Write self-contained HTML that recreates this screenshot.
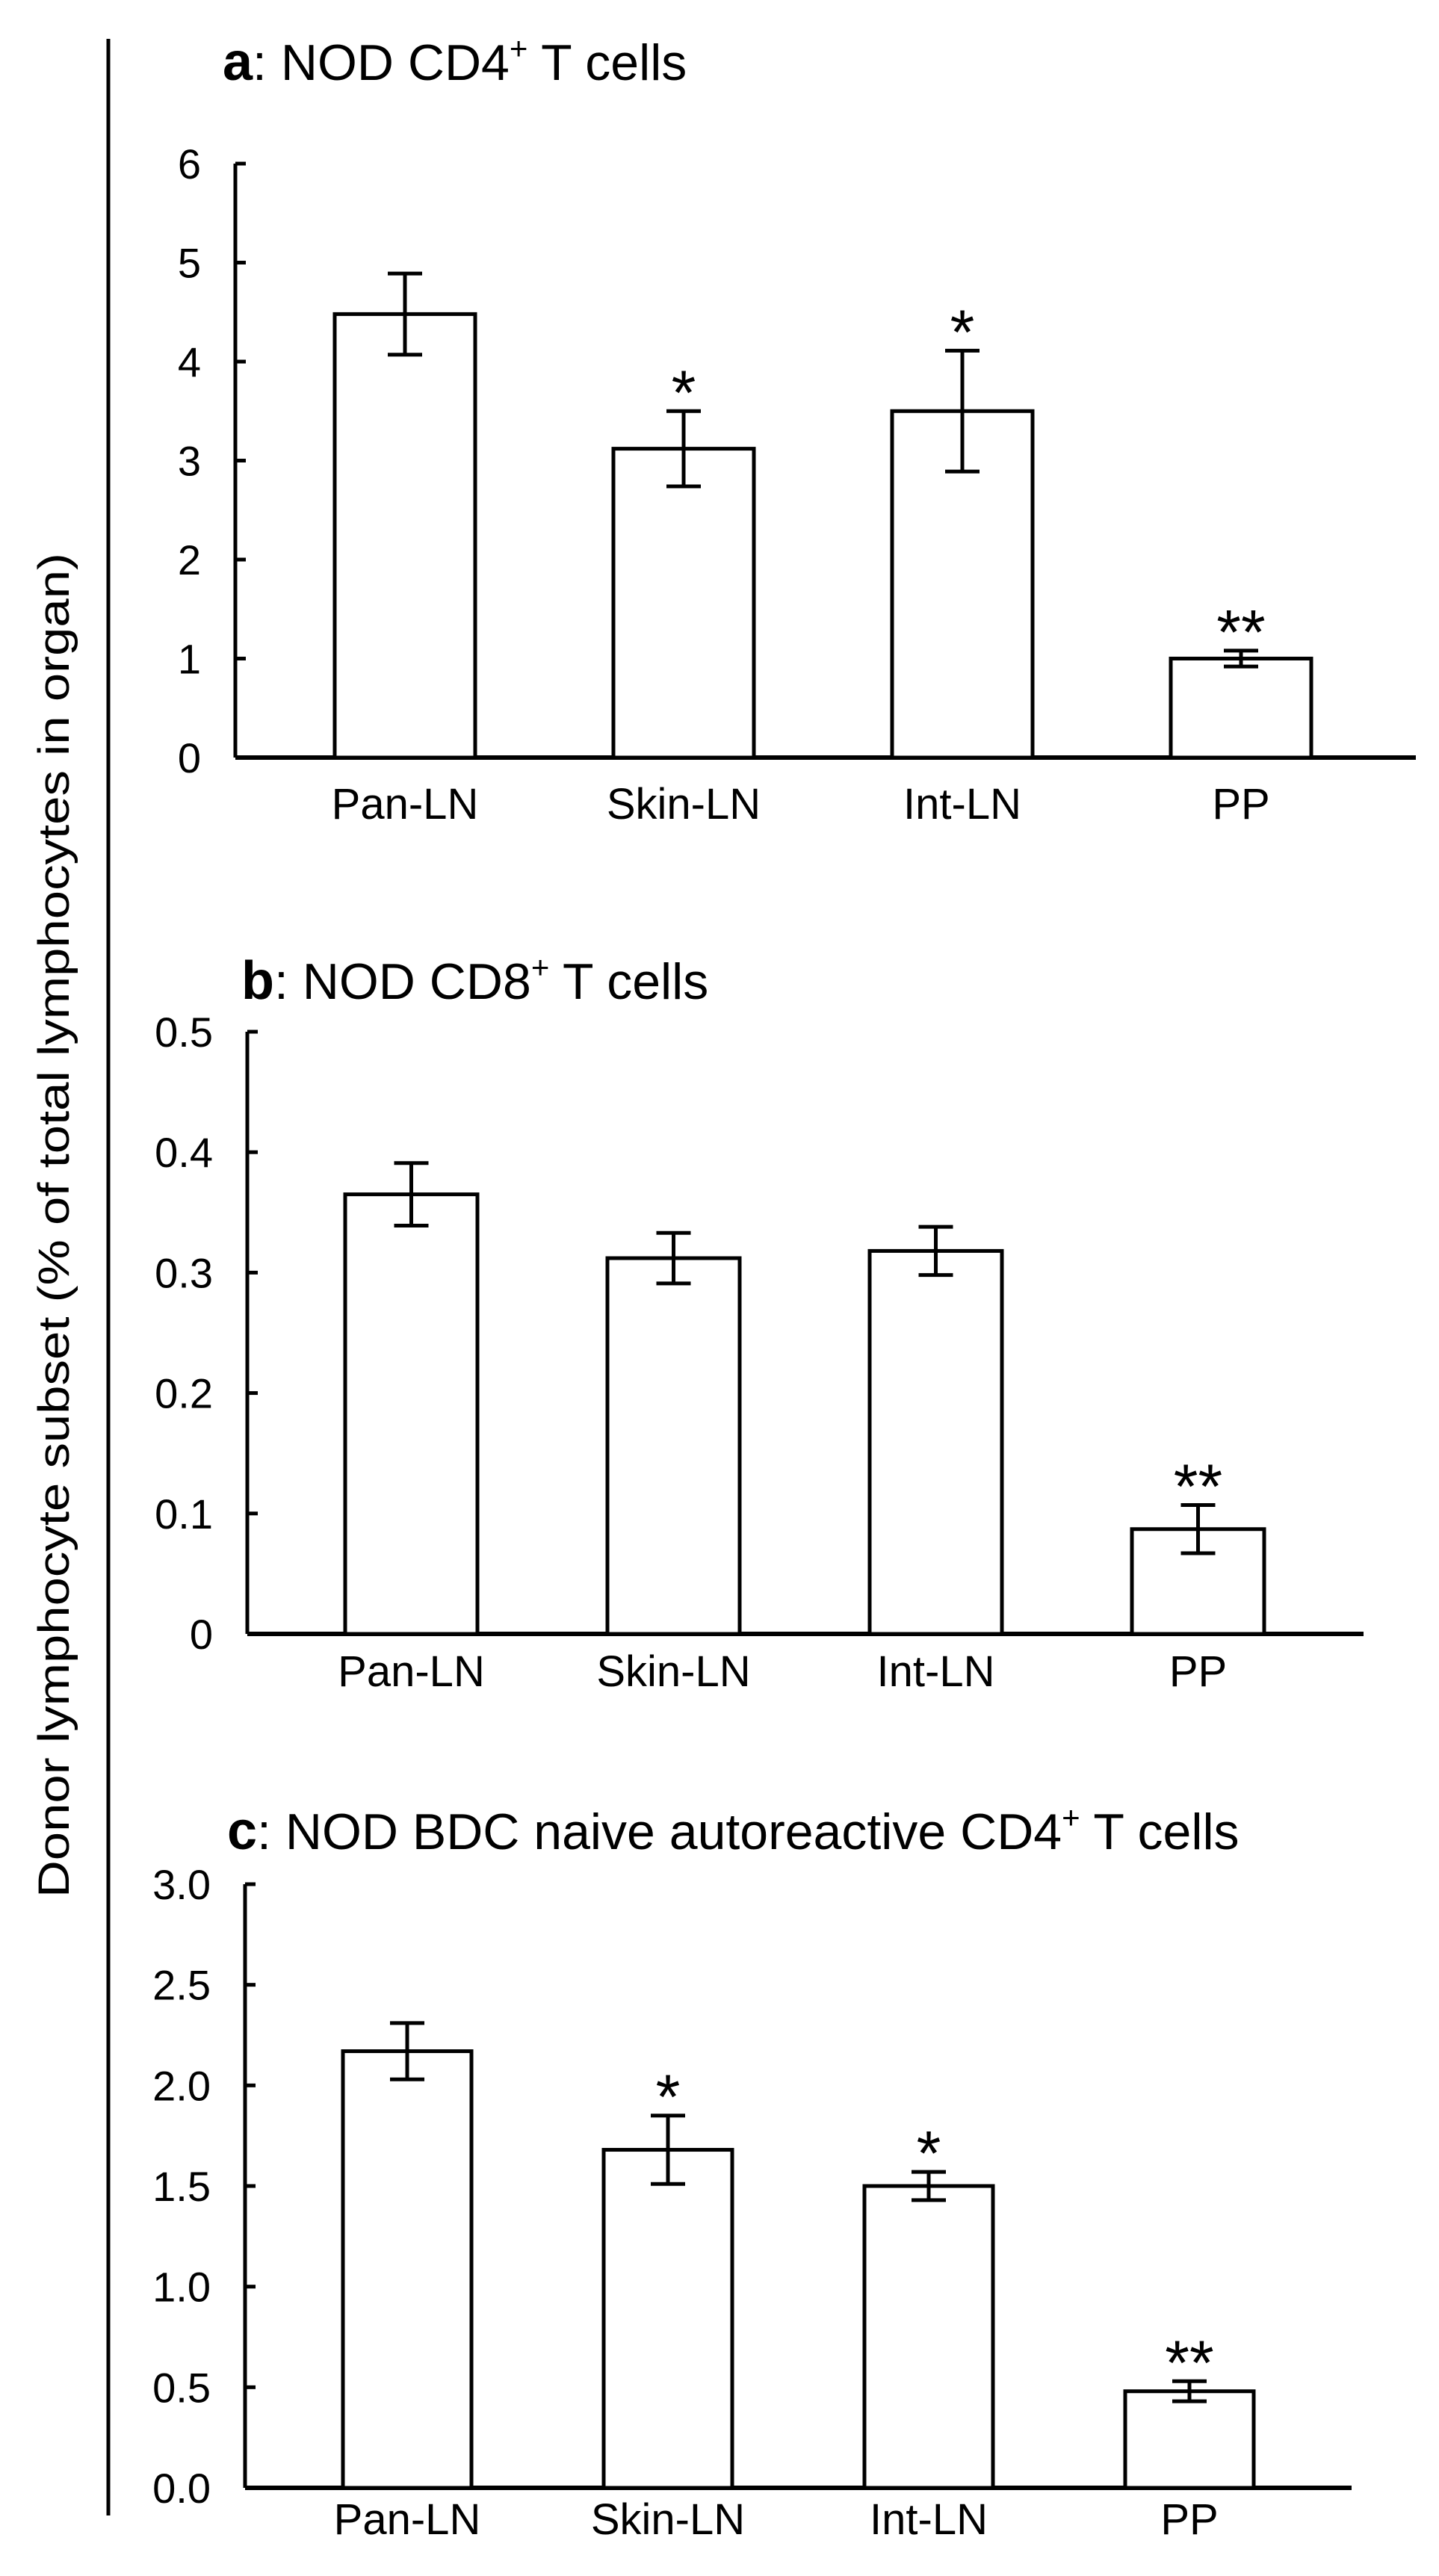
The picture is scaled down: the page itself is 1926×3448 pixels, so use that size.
<!DOCTYPE html>
<html><head><meta charset="utf-8"><style>
html,body{margin:0;padding:0;background:#fff}
svg{display:block}
text{font-family:"Liberation Sans",Arial,sans-serif;fill:#000}
</style></head><body>
<svg id="fig" width="1926" height="3448" viewBox="0 0 1926 3448" xmlns="http://www.w3.org/2000/svg">
<line x1="145" y1="52" x2="145" y2="3367" stroke="#000" stroke-width="5"/>
<text transform="translate(92,1640) rotate(-90)" text-anchor="middle" font-size="58" textLength="1800" lengthAdjust="spacingAndGlyphs">Donor lymphocyte subset (% of total lymphocytes in organ)</text>
</svg>
<script>
const categories = ["Pan-LN","Skin-LN","Int-LN","PP"];
const aValues = [4.48, 3.12, 3.5, 1.0];
const aErrors = [0.41, 0.38, 0.61, 0.08];
const aStars = ["", "*", "*", "**"];
const aTicks = ["0","1","2","3","4","5","6"];
const bValues = [0.365, 0.312, 0.318, 0.087];
const bErrors = [0.026, 0.021, 0.020, 0.020];
const bStars = ["", "", "", "**"];
const bTicks = ["0","0.1","0.2","0.3","0.4","0.5"];
const cValues = [2.17, 1.68, 1.50, 0.48];
const cErrors = [0.14, 0.17, 0.07, 0.05];
const cStars = ["", "*", "*", "**"];
const cTicks = ["0.0","0.5","1.0","1.5","2.0","2.5","3.0"];

const svg = document.getElementById('fig');
const NS = 'http://www.w3.org/2000/svg';
function mk(tag, attrs, parent){
  const e = document.createElementNS(NS, tag);
  for (const k in attrs) e.setAttribute(k, attrs[k]);
  (parent||svg).appendChild(e);
  return e;
}
function panel(cfg){
  const g = mk('g', {});
  
  
  const max = parseFloat(cfg.ticks[cfg.ticks.length-1]);
  const y = v => cfg.y0 - (v / max) * (cfg.y0 - cfg.yTop);
  const x = i => cfg.barX0 + i * cfg.step;
  const t = mk('text', {x: cfg.titleX, y: cfg.titleY, 'font-size': 68}, g);
  
  
  const b = document.createElementNS(NS, 'tspan'); b.setAttribute('font-weight','bold'); b.setAttribute('font-size','72'); b.textContent = cfg.letter; t.appendChild(b);
  const t2 = document.createElementNS(NS, 'tspan'); t2.textContent = cfg.pre; t.appendChild(t2);
  const sup = document.createElementNS(NS, 'tspan'); sup.setAttribute('font-size','42'); sup.setAttribute('dy','-28'); sup.textContent = '+'; t.appendChild(sup);
  const t3 = document.createElementNS(NS, 'tspan'); t3.setAttribute('dy','28'); t3.textContent = ' T cells'; t.appendChild(t3);
  const ya = mk('line', {x1: cfg.ax, y1: cfg.yTop, x2: cfg.ax, y2: cfg.y0, stroke:'#000','stroke-width':5}, g);
  
  
  const xa = mk('line', {x1: cfg.ax, y1: cfg.y0, x2: cfg.axEnd, y2: cfg.y0, stroke:'#000','stroke-width':6}, g);
  
  
  cfg.ticks.forEach(tl => {
    const v = parseFloat(tl);
    const tk = mk('line', {x1: cfg.ax, y1: y(v), x2: cfg.ax + 14, y2: y(v), stroke:'#000','stroke-width':5}, g);
    
    
    const lb = mk('text', {x: cfg.ax - 46, y: y(v) + 20, 'font-size': 56, 'text-anchor':'end'}, g);
    
    
    lb.textContent = tl;
  });
  cfg.values.forEach((v, i) => {
    const r = mk('rect', {x: x(i), y: y(v), width: cfg.bw, height: cfg.y0 - y(v), fill:'#fff', stroke:'#000','stroke-width':5}, g);
    
    
    const cx = x(i) + cfg.bw / 2;
    const hi = y(v + cfg.errors[i]), lo = y(v - cfg.errors[i]);
    const eb = mk('path', {d: `M${cx},${hi}V${lo}M${cx-23},${hi}H${cx+23}M${cx-23},${lo}H${cx+23}`, stroke:'#000','stroke-width':5, fill:'none'}, g);
    
    
    if (cfg.stars[i]) {
      const s = mk('text', {x: cx, y: hi + 4, 'font-size': 84, 'text-anchor':'middle'}, g);
      
      
      s.textContent = cfg.stars[i];
    }
    const cl = mk('text', {x: cx, y: cfg.catY, 'font-size': 58, 'text-anchor':'middle'}, g);
    
    
    cl.textContent = categories[i];
  });
}
panel({id:'a', letter:'a', pre:': NOD CD4', titleX:298, titleY:107, ax:315, axEnd:1895, yTop:219, y0:1014,
  barX0:448, step:373, bw:188, catY:1096, values:aValues, errors:aErrors, stars:aStars, ticks:aTicks});
panel({id:'b', letter:'b', pre:': NOD CD8', titleX:323, titleY:1337, ax:331, axEnd:1825, yTop:1381, y0:2187,
  barX0:462, step:351, bw:177, catY:2257, values:bValues, errors:bErrors, stars:bStars, ticks:bTicks});
panel({id:'c', letter:'c', pre:': NOD BDC naive autoreactive CD4', titleX:304, titleY:2475, ax:328, axEnd:1809, yTop:2522, y0:3330,
  barX0:459, step:349, bw:172, catY:3392, values:cValues, errors:cErrors, stars:cStars, ticks:cTicks});
</script>
</body></html>
